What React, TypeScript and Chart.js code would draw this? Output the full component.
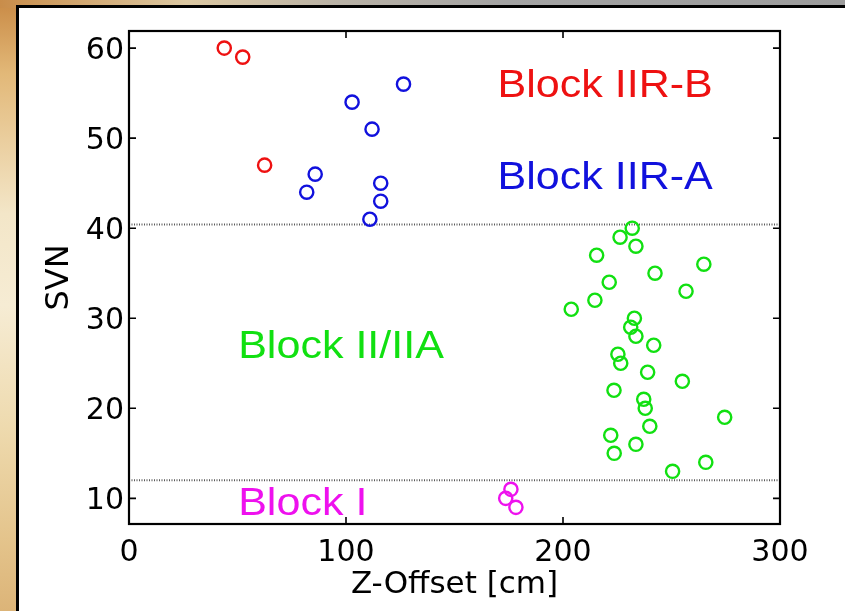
import React, { useEffect, useRef } from "react";
import { Chart, registerables } from "chart.js";

Chart.register(...registerables);

// ---- data ----
const redX = [43.9, 52.4, 62.5];
const redY = [60, 59, 47];

const blueX = [126.5, 102.8, 112.0, 85.8, 81.9, 116.0, 116.0, 111.0];
const blueY = [56, 54, 51, 46, 44, 45, 43, 41];

const greenX = [
  231.9, 226.3, 233.6, 215.5, 264.9, 242.4, 221.3, 256.7, 214.7, 203.8,
  232.9, 231.2, 233.6, 241.8, 225.3, 226.6, 239.0, 255.0, 223.5, 237.2,
  237.9, 274.5, 240.0, 222.0, 233.6, 223.6, 265.8, 250.5,
];
const greenY = [
  40, 39, 38, 37, 36, 35, 34, 33, 32, 31,
  30, 29, 28, 27, 26, 25, 24, 23, 22, 21,
  20, 19, 18, 17, 16, 15, 14, 13,
];

const magentaX = [176.0, 173.6, 178.3];
const magentaY = [11, 10, 9];

const dividerY = [40.4, 12];

const xTicks = [0, 100, 200, 300];
const yTicks = [10, 20, 30, 40, 50, 60];

const labelTexts = ["Block IIR-B", "Block IIR-A", "Block II/IIA", "Block I"];
const labelX = [169.8, 169.8, 50.3, 50.3];
const labelY = [54.56, 44.4, 25.53, 8.15];

const RED = "#ee1111";
const BLUE = "#1111dd";
const GREEN = "#11e011";
const MAGENTA = "#ee11ee";
const labelColors = [RED, BLUE, GREEN, MAGENTA];

const FONT = "DejaVu Sans";
const LABEL_FONT = "Liberation Sans";

const toPts = (xs: number[], ys: number[]) => xs.map((x, i) => ({ x, y: ys[i] }));

const frameAndTicks = {
  id: "frameAndTicks",
  afterDatasetsDraw(chart: any) {
    const { ctx, chartArea, scales } = chart;
    const { left, right, top, bottom } = chartArea;
    ctx.save();
    ctx.strokeStyle = "#000";
    ctx.lineWidth = 1.6;
    const L = 7;
    ctx.beginPath();
    xTicks.forEach((v) => {
      const px = scales.x.getPixelForValue(v);
      ctx.moveTo(px, bottom);
      ctx.lineTo(px, bottom - L);
      ctx.moveTo(px, top);
      ctx.lineTo(px, top + L);
    });
    yTicks.forEach((v) => {
      const py = scales.y.getPixelForValue(v);
      ctx.moveTo(left, py);
      ctx.lineTo(left + L, py);
      ctx.moveTo(right, py);
      ctx.lineTo(right - L, py);
    });
    ctx.stroke();
    ctx.lineWidth = 2.2;
    ctx.strokeRect(left, top, right - left, bottom - top);
    ctx.restore();
  },
};

const blockLabels = {
  id: "blockLabels",
  afterDatasetsDraw(chart: any) {
    const { ctx, scales } = chart;
    const sx = 1.09;
    ctx.save();
    ctx.font = `39.5px "${LABEL_FONT}"`;
    ctx.textAlign = "left";
    ctx.textBaseline = "alphabetic";
    labelTexts.forEach((t, i) => {
      const px = scales.x.getPixelForValue(labelX[i]);
      const py = scales.y.getPixelForValue(labelY[i]);
      ctx.save();
      ctx.translate(px, py);
      ctx.scale(sx, 1);
      ctx.fillStyle = labelColors[i];
      ctx.fillText(t, 0, 0);
      ctx.restore();
    });
    ctx.restore();
  },
};

export default function App() {
  const ref = useRef<HTMLCanvasElement>(null);

  useEffect(() => {
    const canvas = ref.current;
    if (!canvas) return;
    Chart.defaults.font.family = FONT;
    const scatterDs = (label: string, xs: number[], ys: number[], color: string) => ({
      type: "scatter" as const,
      label,
      data: toPts(xs, ys),
      borderColor: color,
      backgroundColor: "rgba(0,0,0,0)",
      pointRadius: 6.6,
      pointBorderWidth: 2.4,
      pointStyle: "circle",
      order: 1,
    });
    const lineDs = (y: number) => ({
      type: "line" as const,
      label: "divider",
      data: [
        { x: xTicks[0], y },
        { x: xTicks[xTicks.length - 1], y },
      ],
      borderColor: "#5a5a5a",
      borderWidth: 2,
      borderDash: [1, 1.5],
      pointRadius: 0,
      fill: false,
      order: 2,
    });
    const chart = new Chart(canvas, {
      type: "scatter",
      data: {
        datasets: [
          ...dividerY.map(lineDs),
          scatterDs("Block IIR-B", redX, redY, RED),
          scatterDs("Block IIR-A", blueX, blueY, BLUE),
          scatterDs("Block II/IIA", greenX, greenY, GREEN),
          scatterDs("Block I", magentaX, magentaY, MAGENTA),
        ] as any,
      },
      options: {
        animation: false,
        responsive: false,
        devicePixelRatio: 1,
        layout: { padding: { left: 0, top: 31, right: 65, bottom: 0 } },
        plugins: { legend: { display: false }, tooltip: { enabled: false } },
        scales: {
          x: {
            type: "linear",
            position: "bottom",
            min: 0,
            max: 300,
            afterBuildTicks: (s: any) => {
              s.ticks = xTicks.map((v) => ({ value: v }));
            },
            afterFit: (s: any) => {
              s.height = 87;
            },
            grid: { display: false, drawTicks: false },
            border: { display: false },
            ticks: {
              color: "#000",
              font: { size: 30, family: FONT },
              padding: 11,
              maxRotation: 0,
              autoSkip: false,
            },
            title: {
              display: true,
              text: "Z-Offset [cm]",
              color: "#000",
              font: { size: 31, family: FONT, lineHeight: 1 },
              padding: { top: 0, bottom: 11 },
            },
          },
          y: {
            type: "linear",
            min: 7.15,
            max: 61.9,
            afterBuildTicks: (s: any) => {
              s.ticks = yTicks.map((v) => ({ value: v }));
            },
            afterFit: (s: any) => {
              s.width = 129;
            },
            grid: { display: false, drawTicks: false },
            border: { display: false },
            ticks: {
              color: "#000",
              font: { size: 30, family: FONT },
              padding: 5,
              labelOffset: 3,
              autoSkip: false,
            },
            title: {
              display: true,
              text: "SVN",
              color: "#000",
              font: { size: 32, family: FONT, lineHeight: 1 },
              padding: { top: 44, bottom: 0 },
            },
          },
        },
      } as any,
      plugins: [frameAndTicks, blockLabels],
    });
    return () => chart.destroy();
  }, []);

  return (
    <div
      style={{
        position: "absolute",
        left: 0,
        top: 0,
        width: 845,
        height: 611,
        overflow: "hidden",
        background:
          "linear-gradient(to right, #c98d4a 0%, #dcc8a2 22%, #b9b2a6 40%, #a3a3a3 60%, #9c9c9c 100%) top left / 100% 8px no-repeat, " +
          "linear-gradient(to bottom, #c98a45 0%, #e2b878 12%, #f3e6c8 35%, #f6ecd4 50%, #eedaae 70%, #e4c48c 88%, #dcb478 100%)",
      }}
    >
      <div
        style={{
          position: "absolute",
          left: 16,
          top: 5,
          width: 845,
          height: 640,
          background: "#fff",
          border: "3px solid #000",
        }}
      />
      <canvas
        ref={ref}
        width={845}
        height={611}
        style={{ position: "absolute", left: 0, top: 0, width: 845, height: 611 }}
      />
    </div>
  );
}
